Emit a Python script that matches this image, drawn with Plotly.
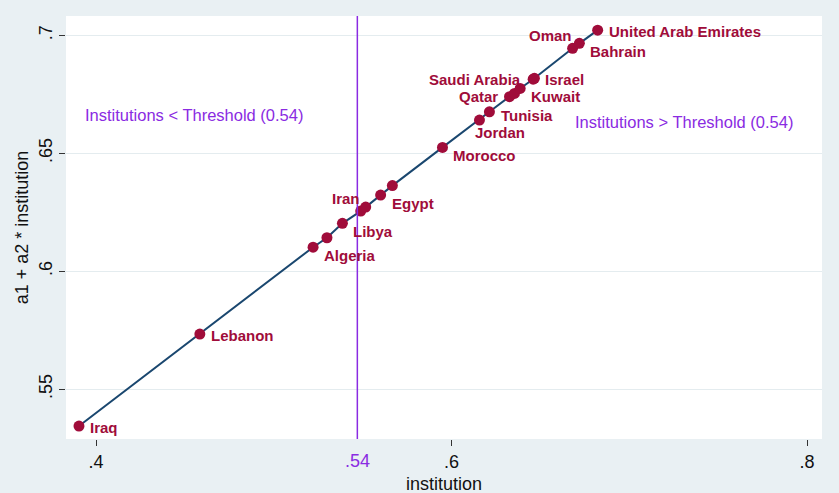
import plotly.graph_objects as go

# ---- data ----
countries = ["Iraq", "Lebanon", "Algeria", "", "Libya", "Iran", "", "Egypt", "",
             "Morocco", "Jordan", "Tunisia", "Qatar", "", "Kuwait", "Saudi Arabia",
             "Israel", "Oman", "Bahrain", "United Arab Emirates"]
institution = [0.3904, 0.4584, 0.5221, 0.5299, 0.5386, 0.5489, 0.5517, 0.5601, 0.5667,
               0.5949, 0.6157, 0.6213, 0.6326, 0.6354, 0.6386, 0.6459, 0.6466,
               0.6681, 0.6719, 0.6822]
fitted = [0.5344, 0.5734, 0.6102, 0.6142, 0.6203, 0.6255, 0.6272, 0.6323, 0.6363,
          0.6525, 0.6641, 0.6676, 0.6740, 0.6754, 0.6775, 0.6814, 0.6818,
          0.6945, 0.6966, 0.7022]
label_clock = [3, 3, 4, 3, 4, 11, 3, 4, 3, 4, 5, 35, 9, 3, 4, 9, 3, 11, 4, 3]

threshold = 0.547
threshold_label = ".54"
x_ticks = [0.4, 0.6, 0.8]
x_ticktext = [".4", ".6", ".8"]
y_ticks = [0.55, 0.6, 0.65, 0.7]
y_ticktext = [".55", ".6", ".65", ".7"]

RED = "#a00c3a"
NAVY = "#1a476f"
PURPLE = "#8a2be2"
BG = "#e9f0f3"
FONT = "Liberation Sans, Arial, sans-serif"

fig = go.Figure()
fig.add_trace(go.Scatter(x=institution, y=fitted, mode="lines",
                         line=dict(color=NAVY, width=2), hoverinfo="skip"))
fig.add_trace(go.Scatter(x=institution, y=fitted, mode="markers",
                         marker=dict(color=RED, size=11), text=countries))

# clock position -> (xanchor, dx, dy)
clock_map = {3: ("left", 9, 1), 35: ("left", 10, 4), 4: ("left", 9, 8),
             5: ("left", -6, 12), 9: ("right", -10, 0), 11: ("right", 1, -13)}
annotations = []
for name, xv, yv, c in zip(countries, institution, fitted, label_clock):
    if not name:
        continue
    xa, dx, dy = clock_map[c]
    annotations.append(dict(x=xv, y=yv, text=name, showarrow=False, xanchor=xa,
                            yanchor="middle", xshift=dx, yshift=-dy,
                            font=dict(family=FONT, size=15, color=RED, weight="bold")))

annotations.append(dict(x=0.3927, y=0.6662, text="Institutions < Threshold (0.54)",
                        showarrow=False, xanchor="left", yanchor="middle",
                        font=dict(family=FONT, size=16.5, color=PURPLE)))
annotations.append(dict(x=0.6685, y=0.6634, text="Institutions > Threshold (0.54)",
                        showarrow=False, xanchor="left", yanchor="middle",
                        font=dict(family=FONT, size=16.5, color=PURPLE)))
annotations.append(dict(x=threshold, y=0, yref="paper", text=threshold_label,
                        showarrow=False, xanchor="center", yanchor="top", yshift=-10,
                        font=dict(family=FONT, size=18, color=PURPLE)))
annotations.append(dict(x=0.5, xref="paper", y=0, yref="paper", text="institution",
                        showarrow=False, xanchor="center", yanchor="middle", yshift=-45,
                        font=dict(family=FONT, size=18, color="#111111")))

fig.add_shape(type="line", x0=threshold, x1=threshold, y0=0, y1=1, yref="paper",
              line=dict(color=PURPLE, width=1.5))

fig.update_layout(
    width=839, height=493,
    margin=dict(l=66, r=17, t=16, b=54),
    paper_bgcolor=BG, plot_bgcolor="white",
    showlegend=False,
    annotations=annotations,
    font=dict(family=FONT, color="#111111"),
    xaxis=dict(range=[0.3831, 0.8084], tickvals=x_ticks, ticktext=x_ticktext,
               showgrid=False, zeroline=False, ticks="outside", ticklen=6,
               tickcolor="#333333", tickfont=dict(size=18), automargin=False,
               showline=False),
    yaxis=dict(range=[0.5289, 0.7082], tickvals=y_ticks, ticktext=y_ticktext,
               showgrid=True, gridcolor="#e4ecef", gridwidth=1, zeroline=False,
               ticks="outside", ticklen=6, tickcolor="#333333", tickangle=-90,
               tickfont=dict(size=18), automargin=False,
               title=dict(text="a1 + a2 * institution", font=dict(size=18), standoff=2),
               showline=False),
)

fig.write_html("out.html")
